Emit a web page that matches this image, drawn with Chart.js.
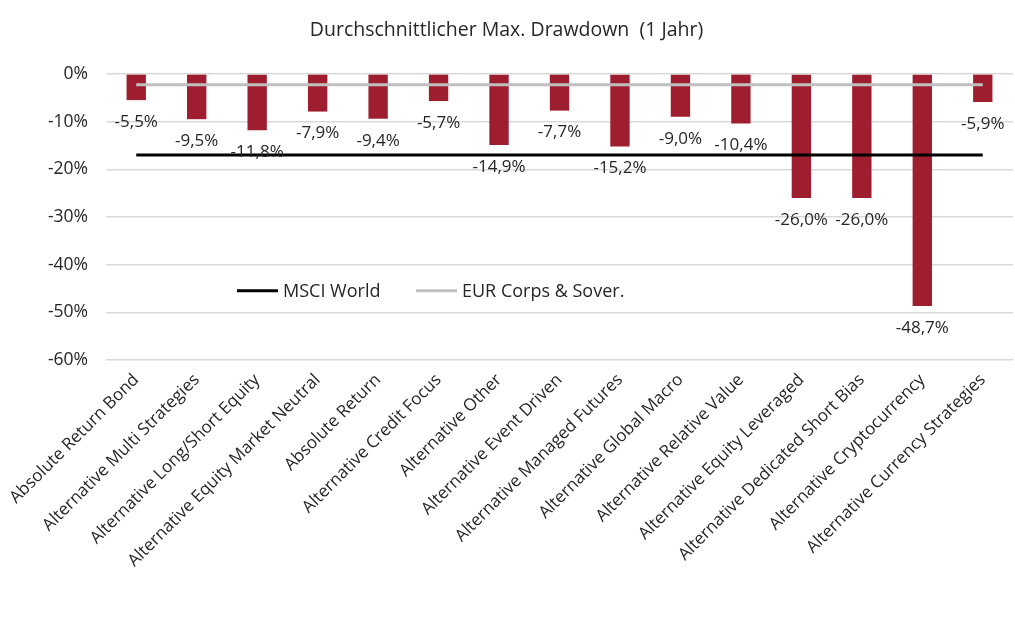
<!DOCTYPE html>
<html>
<head>
<meta charset="utf-8">
<script src="https://cdn.jsdelivr.net/npm/chart.js@4/dist/chart.umd.min.js"></script>
<style>
html,body{margin:0;padding:0;background:#fff;}
#wrap{width:1015px;height:628px;}
</style>
</head>
<body>
<div id="wrap"><canvas id="c" width="1015" height="628"></canvas></div>
<script>
const categories = [
  "Absolute Return Bond",
  "Alternative Multi Strategies",
  "Alternative Long/Short Equity",
  "Alternative Equity Market Neutral",
  "Absolute Return",
  "Alternative Credit Focus",
  "Alternative Other",
  "Alternative Event Driven",
  "Alternative Managed Futures",
  "Alternative Global Macro",
  "Alternative Relative Value",
  "Alternative Equity Leveraged",
  "Alternative Dedicated Short Bias",
  "Alternative Cryptocurrency",
  "Alternative Currency Strategies"
];
const drawdown = [-5.5, -9.5, -11.8, -7.9, -9.4, -5.7, -14.9, -7.7, -15.2, -9.0, -10.4, -26.0, -26.0, -48.7, -5.9];
const msciWorld = [-17.0, -17.0, -17.0, -17.0, -17.0, -17.0, -17.0, -17.0, -17.0, -17.0, -17.0, -17.0, -17.0, -17.0, -17.0];
const eurCorps = [-2.3, -2.3, -2.3, -2.3, -2.3, -2.3, -2.3, -2.3, -2.3, -2.3, -2.3, -2.3, -2.3, -2.3, -2.3];
const yTicks = [0, -10, -20, -30, -40, -50, -60];
const titleText = "Durchschnittlicher Max. Drawdown  (1 Jahr)";
const seriesNames = ["Durchschnittlicher Max. Drawdown", "MSCI World", "EUR Corps & Sover."];

const FONT = "'Open Sans', Lato, sans-serif";
const TEXT = "#262626";

const fmt = v => v.toFixed(1).replace('.', ',') + '%';

const labelPlugin = {
  id: 'barLabels',
  afterDatasetsDraw(chart) {
    const ctx = chart.ctx;
    const meta = chart.getDatasetMeta(0);
    ctx.save();
    ctx.font = "17px " + FONT;
    ctx.fillStyle = TEXT;
    ctx.textAlign = 'center';
    ctx.textBaseline = 'middle';
    meta.data.forEach((bar, i) => {
      ctx.fillText(fmt(drawdown[i]), bar.x, bar.y + 22);
    });
    ctx.restore();
  }
};

const legendPlugin = {
  id: 'innerLegend',
  afterDraw(chart) {
    const ctx = chart.ctx;
    const a = chart.chartArea;
    const y = chart.scales.y.getPixelForValue(-45.5);
    const items = [
      {name: seriesNames[1], color: chart.data.datasets[1].borderColor, x: a.left + 131},
      {name: seriesNames[2], color: chart.data.datasets[2].borderColor, x: a.left + 310}
    ];
    ctx.save();
    ctx.font = "18px " + FONT;
    ctx.textBaseline = 'middle';
    ctx.textAlign = 'left';
    items.forEach(it => {
      ctx.strokeStyle = it.color;
      ctx.lineWidth = 3;
      ctx.beginPath();
      ctx.moveTo(it.x, y);
      ctx.lineTo(it.x + 41, y);
      ctx.stroke();
      ctx.fillStyle = TEXT;
      ctx.fillText(it.name, it.x + 46, y + 1);
    });
    ctx.restore();
  }
};

new Chart(document.getElementById('c'), {
  type: 'bar',
  data: {
    labels: categories,
    datasets: [
      {
        type: 'bar',
        label: seriesNames[0],
        data: drawdown,
        backgroundColor: '#9E1E2F',
        borderWidth: 0,
        categoryPercentage: 1.0,
        barPercentage: 0.32,
        order: 3
      },
      {
        type: 'line',
        label: seriesNames[1],
        data: msciWorld,
        borderColor: '#000000',
        borderWidth: 3,
        pointRadius: 0,
        fill: false,
        order: 1
      },
      {
        type: 'line',
        label: seriesNames[2],
        data: eurCorps,
        borderColor: '#BFBFBF',
        borderWidth: 3,
        pointRadius: 0,
        fill: false,
        order: 2
      }
    ]
  },
  options: {
    responsive: false,
    animation: false,
    layout: { padding: { left: 0, right: 2, top: 0, bottom: 0 } },
    plugins: {
      legend: { display: false },
      tooltip: { enabled: false },
      title: {
        display: true,
        text: titleText,
        color: TEXT,
        font: { family: FONT, size: 19.5, weight: 'normal' },
        padding: { top: 19, bottom: 31.5 }
      }
    },
    scales: {
      x: {
        grid: { display: false },
        border: { display: false },
        ticks: {
          color: TEXT,
          font: { family: FONT, size: 17 },
          maxRotation: 45,
          minRotation: 45,
          autoSkip: false,
          padding: 2
        },
        afterFit(scale) { scale.height = 268; }
      },
      y: {
        min: -60,
        max: 0,
        afterBuildTicks(scale) { scale.ticks = yTicks.map(v => ({ value: v })); },
        grid: { color: '#D9D9D9', lineWidth: 1.5, drawTicks: false },
        border: { display: false },
        ticks: {
          color: TEXT,
          font: { family: FONT, size: 17.5 },
          padding: 18,
          callback: v => v + '%'
        },
        afterFit(scale) { scale.width = 106; }
      }
    }
  },
  plugins: [labelPlugin, legendPlugin]
});
</script>
</body>
</html>
